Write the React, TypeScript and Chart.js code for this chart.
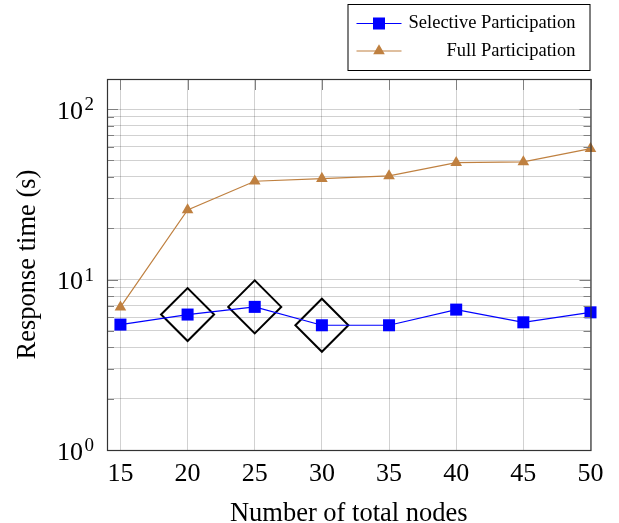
import React, { useEffect, useRef } from 'react';
import { Chart, registerables } from 'chart.js';

Chart.register(...registerables);

const nodeCounts = [15, 20, 25, 30, 35, 40, 45, 50];
const selectiveTimes = [5.44, 6.23, 6.91, 5.39, 5.39, 6.66, 5.61, 6.42];
const fullTimes = [6.88, 25.6, 37.7, 39.1, 40.5, 48.5, 49.0, 58.6];
const highlightedNodes = [20, 25, 30];
const seriesNames = ['Selective Participation', 'Full Participation'];
const xTickValues = [15, 20, 25, 30, 35, 40, 45, 50];
const yDecades = [1, 10, 100];
const yDecadeExponents = ['0', '1', '2'];
const yMinorFactors = [2, 3, 4, 5, 6, 7, 8, 9];
const yLabelBase = '10';
const xTitle = 'Number of total nodes';
const yTitle = 'Response time (s)';

const FONT = "'Liberation Serif', 'Times New Roman', serif";
const BLUE = 'rgb(0,0,255)';
const BROWN = 'rgb(191,128,64)';
const Y_LABEL_PAD = 24;

const frameAndLegend = {
  id: 'frameAndLegend',
  afterDatasetsDraw(chart: any) {
    const { ctx, chartArea } = chart;
    const { left, right, top, bottom } = chartArea;
    const yScale = chart.scales.y;
    const xScale = chart.scales.x;
    ctx.save();
    // inner tick marks
    ctx.strokeStyle = '#808080';
    ctx.lineWidth = 1;
    ctx.beginPath();
    yScale.ticks.forEach((t: any) => {
      const py = Math.round(yScale.getPixelForValue(t.value)) + 0.5;
      const len = yDecades.includes(t.value) ? 11 : 7;
      ctx.moveTo(left, py);
      ctx.lineTo(left + len, py);
      ctx.moveTo(right, py);
      ctx.lineTo(right - len, py);
    });
    xScale.ticks.forEach((t: any) => {
      const px = Math.round(xScale.getPixelForValue(t.value)) + 0.5;
      ctx.moveTo(px, top);
      ctx.lineTo(px, top + 11);
    });
    ctx.stroke();
    // frame
    ctx.strokeStyle = '#333';
    ctx.lineWidth = 1.2;
    ctx.strokeRect(left + 0.5, top + 0.5, right - left, bottom - top);
    // exponents of the decade labels
    ctx.fillStyle = '#000';
    ctx.font = `19px ${FONT}`;
    ctx.textAlign = 'left';
    ctx.textBaseline = 'alphabetic';
    yDecades.forEach((d, i) => {
      const py = yScale.getPixelForValue(d);
      ctx.fillText(yDecadeExponents[i], left - Y_LABEL_PAD + 1.5, py + 1);
    });
    ctx.restore();
  },
  afterDraw(chart: any) {
    const { ctx, chartArea } = chart;
    const boxRight = chartArea.right - 1;
    const boxLeft = boxRight - 242;
    const boxTop = 4;
    const boxBottom = 70;
    ctx.save();
    ctx.fillStyle = '#fff';
    ctx.fillRect(boxLeft, boxTop, boxRight - boxLeft, boxBottom - boxTop);
    ctx.strokeStyle = '#000';
    ctx.lineWidth = 1;
    ctx.strokeRect(boxLeft + 0.5, boxTop + 0.5, boxRight - boxLeft, boxBottom - boxTop);
    const rows = [23.5, 51];
    chart.data.datasets.slice(0, 2).forEach((ds: any, i: number) => {
      const y = rows[i];
      ctx.strokeStyle = ds.borderColor;
      ctx.lineWidth = ds.borderWidth;
      ctx.beginPath();
      ctx.moveTo(boxLeft + 9, y);
      ctx.lineTo(boxLeft + 54, y);
      ctx.stroke();
      const cx = boxLeft + 31.5;
      ctx.fillStyle = ds.pointBackgroundColor;
      if (ds.pointStyle === 'rect') {
        ctx.fillRect(cx - 6, y - 6, 12, 12);
      } else {
        const r = ds.pointRadius;
        ctx.beginPath();
        ctx.moveTo(cx, y - r);
        ctx.lineTo(cx + r * Math.sin(Math.PI / 3), y + r / 2);
        ctx.lineTo(cx - r * Math.sin(Math.PI / 3), y + r / 2);
        ctx.closePath();
        ctx.fill();
      }
      ctx.fillStyle = '#000';
      ctx.font = `18.5px ${FONT}`;
      ctx.textAlign = 'right';
      ctx.textBaseline = 'middle';
      ctx.fillText(ds.label, boxRight - 14, y);
    });
    ctx.restore();
  },
};

export default function App() {
  const canvasRef = useRef<HTMLCanvasElement | null>(null);

  useEffect(() => {
    if (!canvasRef.current) return;
    const highlighted = highlightedNodes.map((n) => ({
      x: n,
      y: selectiveTimes[nodeCounts.indexOf(n)],
    }));
    const chart = new Chart(canvasRef.current, {
      type: 'scatter',
      data: {
        datasets: [
          {
            label: seriesNames[0],
            data: nodeCounts.map((x, i) => ({ x, y: selectiveTimes[i] })),
            showLine: true,
            borderColor: BLUE,
            borderWidth: 1.2,
            pointStyle: 'rect',
            pointRadius: 8.5,
            pointHoverRadius: 8.5,
            pointBackgroundColor: BLUE,
            pointBorderWidth: 0,
            clip: false,
          } as any,
          {
            label: seriesNames[1],
            data: nodeCounts.map((x, i) => ({ x, y: fullTimes[i] })),
            showLine: true,
            borderColor: BROWN,
            borderWidth: 1.2,
            pointStyle: 'triangle',
            pointRadius: 6.7,
            pointHoverRadius: 6.7,
            pointBackgroundColor: BROWN,
            pointBorderWidth: 0,
            clip: false,
          } as any,
          {
            label: 'highlight',
            data: highlighted,
            showLine: false,
            pointStyle: 'rectRot',
            pointRadius: 26.5,
            pointHoverRadius: 26.5,
            pointBackgroundColor: 'rgba(0,0,0,0)',
            pointBorderColor: '#000',
            pointBorderWidth: 2,
            clip: false,
          } as any,
        ],
      },
      options: {
        animation: false,
        responsive: true,
        maintainAspectRatio: false,
        layout: { padding: { top: 79, right: 27, left: 0, bottom: 0 } },
        plugins: { legend: { display: false }, tooltip: { enabled: false } },
        events: [],
        scales: {
          x: {
            type: 'linear',
            min: 14,
            max: 50,
            afterBuildTicks: (scale: any) => {
              scale.ticks = xTickValues.map((v) => ({ value: v }));
            },
            afterFit: (scale: any) => {
              scale.height = 73;
            },
            grid: { color: 'rgba(0,0,0,0.18)', lineWidth: 1, drawTicks: false },
            border: { display: false },
            ticks: {
              autoSkip: false,
              maxRotation: 0,
              padding: 9,
              color: '#000',
              font: { family: FONT, size: 26 },
              callback: (v: any) => String(v),
            },
            title: {
              display: true,
              text: xTitle,
              color: '#000',
              font: { family: FONT, size: 26.5 },
              padding: { top: 0, bottom: -7 },
            },
          },
          y: {
            type: 'logarithmic',
            min: 1,
            max: 150,
            afterBuildTicks: (scale: any) => {
              const ticks: any[] = [];
              yDecades.forEach((d) => {
                ticks.push({ value: d, major: true });
                if (d < 100) yMinorFactors.forEach((f) => ticks.push({ value: d * f }));
              });
              scale.ticks = ticks;
            },
            afterFit: (scale: any) => {
              scale.width = 107;
            },
            grid: { color: 'rgba(0,0,0,0.18)', lineWidth: 1, drawTicks: false },
            border: { display: false },
            ticks: {
              autoSkip: false,
              padding: Y_LABEL_PAD,
              labelOffset: 3,
              color: '#000',
              font: { family: FONT, size: 26 },
              callback: (v: any) => (yDecades.indexOf(Number(v)) >= 0 ? yLabelBase : ''),
            },
            title: {
              display: true,
              text: yTitle,
              color: '#000',
              font: { family: FONT, size: 26.5 },
              padding: { top: 12, bottom: 0 },
            },
          },
        },
      },
      plugins: [frameAndLegend],
    } as any);
    return () => chart.destroy();
  }, []);

  return (
    <div style={{ position: 'absolute', left: 0, top: 0, width: 619, height: 523, background: '#fff' }}>
      <canvas ref={canvasRef} />
    </div>
  );
}
